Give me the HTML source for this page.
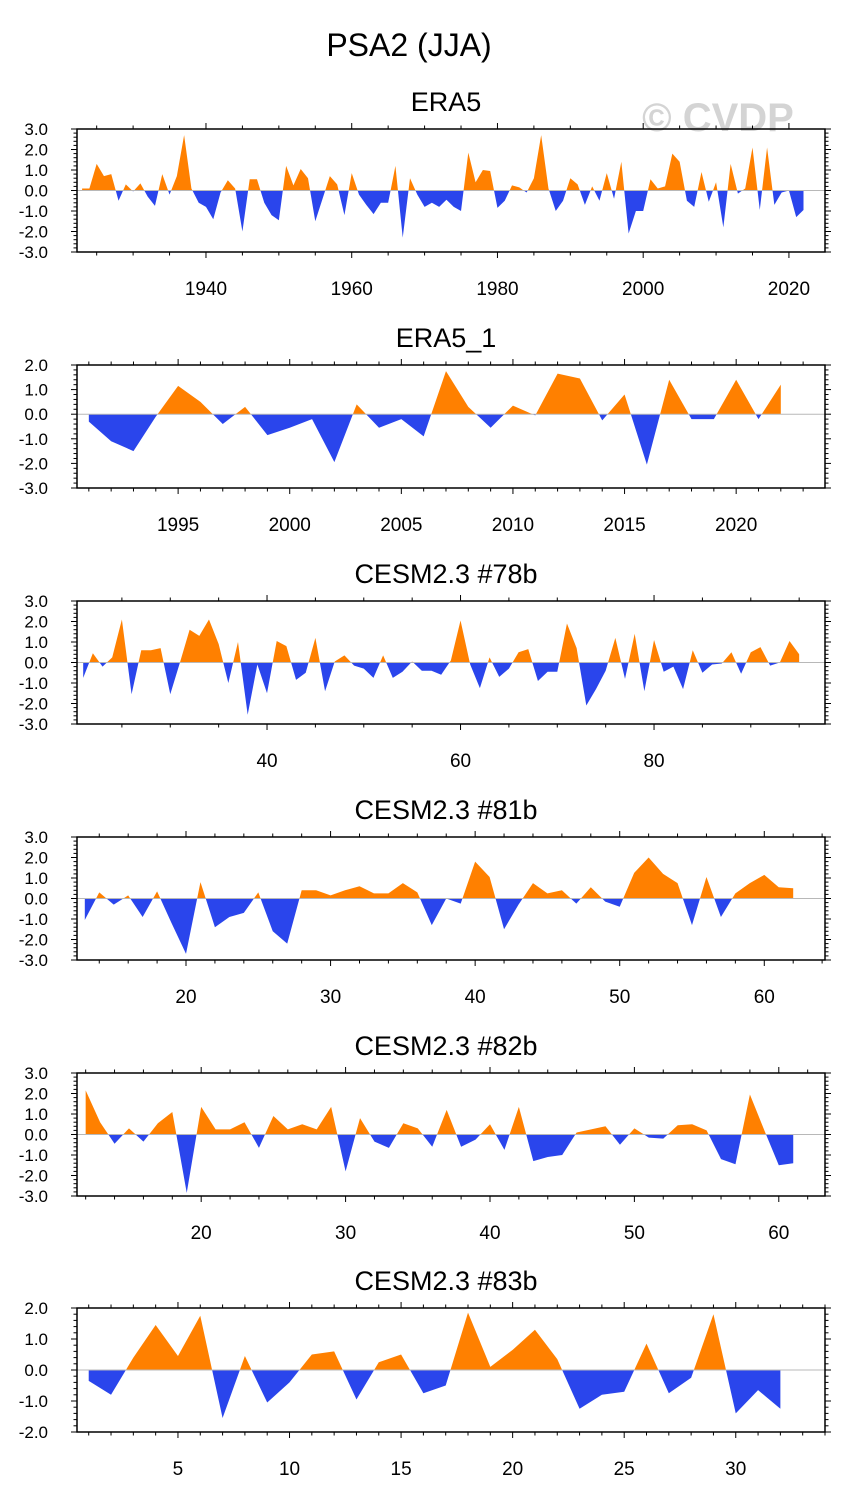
<!DOCTYPE html>
<html><head><meta charset="utf-8"><style>
body{margin:0;background:#fff}
svg text{font-family:"Liberation Sans",sans-serif}
</style></head><body>
<svg id="c" width="845" height="1506" xmlns="http://www.w3.org/2000/svg">
<text x="409" y="56" font-size="32" text-anchor="middle">PSA2 (JJA)</text>
<text x="718" y="131" font-size="40" font-weight="bold" fill="#d4d4d4" text-anchor="middle">© CVDP</text>
</svg>
<script>
const era5Values=[0.1,0.1,1.3,0.7,0.8,-0.5,0.3,-0.05,0.35,-0.3,-0.75,0.8,-0.2,0.7,2.7,0.1,-0.6,-0.8,-1.4,-0.1,0.5,0.1,-2.0,0.55,0.55,-0.6,-1.2,-1.45,1.2,0.25,1.05,0.6,-1.5,-0.4,0.7,0.3,-1.2,0.85,-0.2,-0.7,-1.15,-0.6,-0.6,1.2,-2.3,0.6,-0.2,-0.8,-0.6,-0.8,-0.45,-0.8,-1.0,1.85,0.4,1.0,0.95,-0.85,-0.5,0.25,0.15,-0.1,0.6,2.7,0.1,-1.0,-0.5,0.6,0.3,-0.7,0.2,-0.5,0.85,-0.4,1.4,-2.1,-1.0,-1.0,0.55,0.1,0.2,1.8,1.4,-0.5,-0.8,0.9,-0.55,0.4,-1.8,1.3,-0.15,0.1,2.1,-0.95,2.1,-0.7,-0.1,0.0,-1.3,-0.95];
const era5_1Values=[-0.3,-1.1,-1.5,-0.1,1.15,0.5,-0.4,0.3,-0.85,-0.55,-0.2,-1.95,0.4,-0.55,-0.2,-0.9,1.75,0.3,-0.55,0.35,-0.05,1.65,1.45,-0.25,0.8,-2.05,1.4,-0.2,-0.2,1.4,-0.2,1.2];
const c78Values=[-0.75,0.45,-0.2,0.25,2.1,-1.55,0.6,0.6,0.7,-1.55,0.0,1.6,1.3,2.1,0.9,-1.0,1.0,-2.55,-0.1,-1.5,1.05,0.8,-0.85,-0.5,1.2,-1.4,0.05,0.35,-0.15,-0.3,-0.75,0.35,-0.75,-0.45,0.05,-0.4,-0.4,-0.6,0.1,2.05,-0.1,-1.25,0.25,-0.7,-0.3,0.5,0.65,-0.9,-0.45,-0.45,1.9,0.7,-2.1,-1.3,-0.4,1.2,-0.8,1.4,-1.4,1.1,-0.45,-0.2,-1.3,0.6,-0.5,-0.1,-0.05,0.5,-0.55,0.5,0.75,-0.15,0.0,1.05,0.4];
const c81Values=[-1.05,0.3,-0.3,0.15,-0.9,0.35,-1.2,-2.7,0.8,-1.4,-0.9,-0.7,0.3,-1.6,-2.2,0.4,0.4,0.15,0.4,0.6,0.25,0.25,0.75,0.3,-1.3,0.0,-0.25,1.8,1.05,-1.5,-0.3,0.75,0.25,0.4,-0.25,0.55,-0.15,-0.4,1.25,2.0,1.2,0.75,-1.3,1.05,-0.9,0.25,0.75,1.15,0.55,0.5];
const c82Values=[2.15,0.6,-0.45,0.3,-0.35,0.55,1.1,-2.85,1.35,0.25,0.25,0.6,-0.65,0.9,0.25,0.5,0.25,1.35,-1.8,0.8,-0.35,-0.65,0.55,0.3,-0.6,1.2,-0.6,-0.25,0.5,-0.75,1.35,-1.3,-1.1,-1.0,0.1,0.25,0.4,-0.5,0.3,-0.15,-0.2,0.45,0.5,0.2,-1.2,-1.45,1.95,0.2,-1.5,-1.4];
const c83Values=[-0.35,-0.8,0.4,1.45,0.45,1.75,-1.55,0.45,-1.05,-0.4,0.5,0.6,-0.95,0.25,0.5,-0.75,-0.5,1.85,0.1,0.65,1.3,0.35,-1.25,-0.8,-0.7,0.85,-0.75,-0.25,1.8,-1.4,-0.65,-1.25];
const panelTitles=["ERA5","ERA5_1","CESM2.3 #78b","CESM2.3 #81b","CESM2.3 #82b","CESM2.3 #83b"];
const startYears=[1923,1991,21,13,12,1];
const xTickLabels=[[1940,1960,1980,2000,2020],[1995,2000,2005,2010,2015,2020],[40,60,80],[20,30,40,50,60],[20,30,40,50,60],[5,10,15,20,25,30]];
const yTickLabels=[[3,2,1,0,-1,-2,-3],[2,1,0,-1,-2,-3],[3,2,1,0,-1,-2,-3],[3,2,1,0,-1,-2,-3],[3,2,1,0,-1,-2,-3],[2,1,0,-1,-2]];
const allValues=[era5Values,era5_1Values,c78Values,c81Values,c82Values,c83Values];

const layout=[
 {top:129,bot:252,x0:1922.3,x1:2024.95,minor:5},
 {top:365,bot:488,x0:1990.47,x1:2023.98,minor:1},
 {top:601,bot:724,x0:20.36,x1:97.67,minor:5},
 {top:837,bot:960,x0:12.46,x1:64.2,minor:2},
 {top:1073,bot:1196,x0:11.4,x1:63.2,minor:2},
 {top:1308,bot:1432,x0:0.475,x1:34,minor:1}];
const L=77,R=825,NS="http://www.w3.org/2000/svg";
const svg=document.getElementById('c');
function mk(t,a,p){const e=document.createElementNS(NS,t);for(const k in a)e.setAttribute(k,a[k]);(p||svg).appendChild(e);return e;}
layout.forEach((P,i)=>{
 const vals=allValues[i],yl=yTickLabels[i];
 const ymax=yl[0],ymin=yl[yl.length-1];
 const X=v=>L+(v-P.x0)/(P.x1-P.x0)*(R-L);
 const Y=v=>P.top+(ymax-v)/(ymax-ymin)*(P.bot-P.top);
 const g=mk('g',{});
 
 
 const t=mk('text',{x:446,y:P.top-18,'font-size':27,'text-anchor':'middle'},g);
 t.textContent=panelTitles[i];
 
 
 const y0=Y(0);
 let d='M'+X(startYears[i])+','+y0;
 vals.forEach((v,j)=>{d+=' L'+X(startYears[i]+j)+','+Y(v);});
 d+=' L'+X(startYears[i]+vals.length-1)+','+y0+'Z';
 const cid='cp'+i,cid2='cn'+i;
 const defs=mk('defs',{},g);
 const c1=mk('clipPath',{id:cid},defs);mk('rect',{x:L,y:P.top,width:R-L,height:y0-P.top},c1);
 const c2=mk('clipPath',{id:cid2},defs);mk('rect',{x:L,y:y0,width:R-L,height:P.bot-y0},c2);
 const pos=mk('path',{d:d,fill:'#ff8000','clip-path':'url(#'+cid+')'},g);
 
 
 const neg=mk('path',{d:d,fill:'#2a45ec','clip-path':'url(#'+cid2+')'},g);
 
 
 const zl=mk('line',{x1:L,x2:R,y1:y0,y2:y0,stroke:'#b8b8b8','stroke-width':1},g);
 
 
 mk('rect',{x:L,y:P.top,width:R-L,height:P.bot-P.top,fill:'none',stroke:'#000','stroke-width':1.5},g);
 for(let v=ymin;v<=ymax+1e-6;v+=0.2){
  const yy=Y(v),maj=Math.abs(v-Math.round(v))<1e-6,len=maj?6:3.5;
  mk('line',{x1:L-len,x2:L,y1:yy,y2:yy,stroke:'#000','stroke-width':1},g);
  mk('line',{x1:R,x2:R+len,y1:yy,y2:yy,stroke:'#000','stroke-width':1},g);
 }
 yl.forEach(v=>{const tx=mk('text',{x:48,y:Y(v)+6,'font-size':17,'text-anchor':'end'},g);tx.textContent=v.toFixed(1);
  
  });
 const majStep=xTickLabels[i][1]-xTickLabels[i][0];
 for(let v=Math.ceil(P.x0/P.minor)*P.minor;v<=P.x1;v+=P.minor){
  const xx=X(v),maj=(v%majStep===0),len=maj?6:3.5;
  mk('line',{x1:xx,x2:xx,y1:P.bot,y2:P.bot+len,stroke:'#000','stroke-width':1},g);
  mk('line',{x1:xx,x2:xx,y1:P.top-len,y2:P.top,stroke:'#000','stroke-width':1},g);
 }
 xTickLabels[i].forEach(v=>{const tx=mk('text',{x:X(v),y:P.bot+43,'font-size':19,'text-anchor':'middle'},g);tx.textContent=v;
  
  });
});
</script>
</body></html>
